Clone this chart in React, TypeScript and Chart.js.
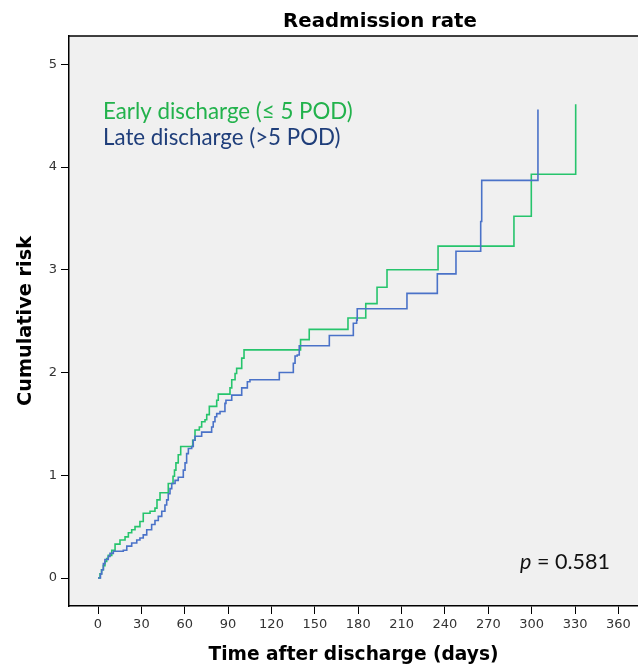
import React, { useEffect, useRef } from 'react';
import { Chart, registerables } from 'chart.js';

Chart.register(...registerables);

// ---- data ----
const xTicks = [0, 30, 60, 90, 120, 150, 180, 210, 240, 270, 300, 330, 360];
const yTicks = [0, 1, 2, 3, 4, 5];

const earlyDays = [0, 1.4, 2.4, 3.7, 4.8, 6.0, 7.1, 9.5, 11.8, 15.2, 18.7, 21.0, 23.3, 25.6, 29.0, 31.3, 36.0, 39.4, 40.8, 42.9, 48.6, 51.9, 52.9, 53.9, 55.5, 57.2, 65.5, 67.1, 70.1, 71.7, 74.0, 75.2, 77.0, 82.1, 83.2, 91.3, 92.5, 94.8, 95.9, 99.4, 101.0, 140.1, 146.1, 172.9, 185.2, 193.0, 199.9, 235.2, 287.7, 299.7, 330.4];
const earlyRisk = [0, 0.04, 0.08, 0.12, 0.16, 0.19, 0.22, 0.27, 0.33, 0.37, 0.40, 0.44, 0.47, 0.50, 0.55, 0.63, 0.65, 0.68, 0.76, 0.83, 0.92, 0.99, 1.05, 1.12, 1.20, 1.28, 1.34, 1.44, 1.47, 1.52, 1.54, 1.59, 1.67, 1.73, 1.79, 1.85, 1.93, 1.99, 2.04, 2.14, 2.22, 2.32, 2.42, 2.53, 2.67, 2.83, 3.00, 3.23, 3.52, 3.93, 4.61];

const lateDays = [0, 1.7, 2.6, 3.7, 4.8, 7.1, 8.3, 10.6, 17.5, 19.9, 23.3, 26.8, 29.0, 31.3, 33.7, 37.1, 39.4, 41.7, 44.1, 46.3, 47.5, 48.6, 49.8, 51.0, 53.3, 55.5, 59.0, 60.2, 61.3, 62.5, 64.8, 65.9, 67.1, 71.7, 78.6, 79.7, 80.9, 82.1, 84.4, 87.8, 88.5, 92.5, 99.4, 103.3, 105.1, 125.4, 135.1, 136.3, 137.8, 139.2, 160.0, 176.6, 178.9, 179.3, 213.7, 234.7, 247.6, 264.7, 265.4, 304.3];
const lateRisk = [0, 0.04, 0.08, 0.14, 0.18, 0.21, 0.24, 0.26, 0.27, 0.31, 0.34, 0.37, 0.39, 0.42, 0.47, 0.52, 0.56, 0.60, 0.65, 0.71, 0.76, 0.82, 0.87, 0.92, 0.95, 0.98, 1.05, 1.12, 1.21, 1.26, 1.28, 1.34, 1.38, 1.42, 1.47, 1.52, 1.57, 1.60, 1.62, 1.70, 1.73, 1.78, 1.85, 1.91, 1.93, 2.00, 2.09, 2.16, 2.17, 2.26, 2.36, 2.48, 2.51, 2.62, 2.77, 2.96, 3.18, 3.47, 3.87, 4.56];

const titleText = 'Readmission rate';
const xTitle = 'Time after discharge (days)';
const yTitle = 'Cumulative risk';
const earlyLabel = 'Early discharge (\u2264 5 POD)';
const lateLabel = 'Late discharge (>5 POD)';
const pLetter = 'p';
const pRest = ' = 0.581';

const W = 638;
const H = 669;

const fontStr = (style: string, weight: string, size: number, family: string) =>
  `${style} ${weight} ${size}px ${family}`;

function fitSize(text: string, style: string, weight: string, family: string, target: number): number {
  const c = document.createElement('canvas').getContext('2d')!;
  c.font = fontStr(style, weight, 100, family);
  const w = c.measureText(text).width;
  return (100 * target) / w;
}

const TITLE_FAM = '"DejaVu Sans", sans-serif';
const TEXT_FAM = 'Lato, "Open Sans", sans-serif';

export default function App() {
  const ref = useRef<HTMLCanvasElement | null>(null);

  useEffect(() => {
    if (!ref.current) return;

    const titleSize = fitSize(titleText, 'normal', 'bold', TITLE_FAM, 194);
    const xTitleSize = fitSize(xTitle, 'normal', 'bold', TITLE_FAM, 290);
    const yTitleSize = fitSize(yTitle, 'normal', 'bold', TITLE_FAM, 170);
    const legSize = fitSize(earlyLabel, 'normal', 'normal', TEXT_FAM, 250);
    const c = document.createElement('canvas').getContext('2d')!;
    c.font = fontStr('italic', 'normal', 100, TEXT_FAM);
    const wp = c.measureText(pLetter).width;
    c.font = fontStr('normal', 'normal', 100, TEXT_FAM);
    const wr = c.measureText(pRest).width;
    const pSize = (100 * 90) / (wp + wr);

    const decor = {
      id: 'decor',
      beforeDraw(chart: any) {
        const { ctx, chartArea: a } = chart;
        ctx.save();
        ctx.fillStyle = '#f0f0f0';
        ctx.fillRect(a.left, a.top, a.right - a.left, a.bottom - a.top);
        ctx.strokeStyle = '#000';
        ctx.lineWidth = 1.5;
        ctx.beginPath();
        ctx.moveTo(a.left - 0.75, a.top);
        ctx.lineTo(a.right, a.top);
        ctx.stroke();
        ctx.restore();
      },
      afterDraw(chart: any) {
        const { ctx } = chart;
        ctx.save();
        ctx.textBaseline = 'alphabetic';
        // title
        ctx.fillStyle = '#000';
        ctx.textAlign = 'center';
        ctx.font = fontStr('normal', 'bold', titleSize, TITLE_FAM);
        ctx.fillText(titleText, 380, 27);
        // legend texts
        ctx.textAlign = 'left';
        ctx.font = fontStr('normal', 'normal', legSize, TEXT_FAM);
        ctx.fillStyle = '#22b24c';
        ctx.fillText(earlyLabel, 103, 118.5);
        ctx.fillStyle = '#1f3e7a';
        ctx.fillText(lateLabel, 103, 145);
        // p value
        ctx.fillStyle = '#111';
        ctx.font = fontStr('italic', 'normal', pSize, TEXT_FAM);
        ctx.fillText(pLetter, 520, 569);
        const pw = ctx.measureText(pLetter).width;
        ctx.font = fontStr('normal', 'normal', pSize, TEXT_FAM);
        ctx.fillText(pRest, 520 + pw, 569);
        ctx.restore();
      },
    };

    const early = earlyDays.map((d, i) => ({ x: d, y: earlyRisk[i] }));
    const late = lateDays.map((d, i) => ({ x: d, y: lateRisk[i] }));

    const chart = new Chart(ref.current, {
      type: 'line',
      data: {
        datasets: [
          {
            label: lateLabel,
            data: late,
            borderColor: '#4a72c8',
            borderWidth: 1.6,
            pointRadius: 0,
            stepped: 'before',
            fill: false,
          },
          {
            label: earlyLabel,
            data: early,
            borderColor: '#26c46c',
            borderWidth: 1.6,
            pointRadius: 0,
            stepped: 'before',
            fill: false,
          },
        ],
      },
      options: {
        responsive: false,
        animation: false,
        devicePixelRatio: 1,
        layout: { padding: { top: 36, left: 0, right: 0, bottom: 0 } },
        plugins: {
          legend: { display: false },
          title: { display: false },
          tooltip: { enabled: false },
        },
        scales: {
          x: {
            type: 'linear',
            position: 'bottom',
            min: -20.06,
            max: 373.5,
            afterBuildTicks: (s: any) => {
              s.ticks = xTicks.map((v) => ({ value: v }));
            },
            afterFit: (s: any) => {
              s.height = 63;
            },
            grid: {
              display: true,
              drawOnChartArea: false,
              drawTicks: true,
              tickLength: 8,
              color: '#000',
              lineWidth: 1,
            },
            border: { display: true, color: '#000', width: 1.5 },
            ticks: {
              autoSkip: false,
              maxRotation: 0,
              padding: 3,
              color: '#333',
              font: { family: 'DejaVu Sans', size: 13 },
              callback: (v: any) => String(v),
            },
            title: {
              display: true,
              text: xTitle,
              color: '#000',
              font: { family: 'DejaVu Sans', weight: 'bold', size: xTitleSize },
              padding: { top: 0, bottom: 3 },
            },
          },
          y: {
            type: 'linear',
            position: 'left',
            min: -0.2725,
            max: 5.275,
            afterBuildTicks: (s: any) => {
              s.ticks = yTicks.map((v) => ({ value: v }));
            },
            afterFit: (s: any) => {
              s.width = 69;
            },
            grid: {
              display: true,
              drawOnChartArea: false,
              drawTicks: true,
              tickLength: 8,
              color: '#000',
              lineWidth: 1,
            },
            border: { display: true, color: '#000', width: 1.5 },
            ticks: {
              autoSkip: false,
              padding: 4,
              color: '#333',
              font: { family: 'DejaVu Sans', size: 13 },
              callback: (v: any) => String(v),
            },
            title: {
              display: true,
              text: yTitle,
              color: '#000',
              font: { family: 'DejaVu Sans', weight: 'bold', size: yTitleSize },
              padding: { top: 26 - (yTitleSize * 1.2) / 2, bottom: 0 },
            },
          },
        },
      },
      plugins: [decor],
    });

    return () => chart.destroy();
  }, []);

  return (
    <div style={{ position: 'absolute', left: 0, top: 0, width: W, height: H, background: '#fff' }}>
      <canvas ref={ref} width={W} height={H} style={{ display: 'block', width: W, height: H }} />
    </div>
  );
}
